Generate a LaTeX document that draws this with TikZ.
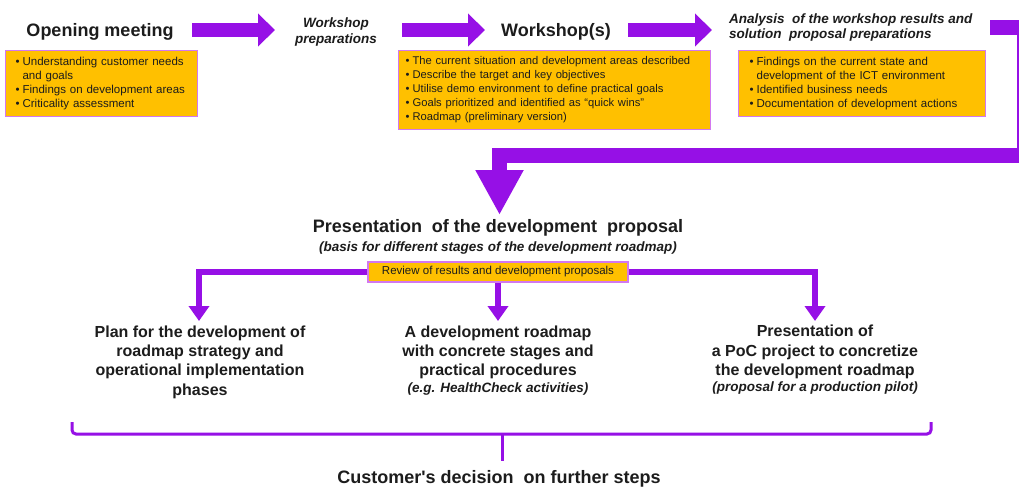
\documentclass[tikz,border=0pt]{standalone}
\usepackage{fontspec}
\setmainfont{Liberation Sans}
\usetikzlibrary{arrows.meta}
\definecolor{vio}{RGB}{150,16,230}
\definecolor{boxfill}{RGB}{255,192,0}
\definecolor{boxline}{RGB}{210,120,240}
\definecolor{txt}{RGB}{28,28,28}
\newcommand{\bul}{\makebox[7pt][l]{•}}
\newcommand{\ind}{\hspace*{7pt}}
\begin{document}
\begin{tikzpicture}[x=1pt,y=-1pt,
  every node/.style={text=txt, inner sep=0pt},
  infobox/.style={draw=boxline, line width=1.2pt, fill=boxfill, anchor=north west,
    align=left, inner xsep=10pt, inner ysep=0pt, font=\fontsize{11.5}{14}\selectfont},
  title/.style={font=\fontsize{18}{21}\selectfont\bfseries, anchor=base},
  subtitle/.style={font=\fontsize{13.5}{16}\selectfont\bfseries\itshape},
  outcome/.style={font=\fontsize{16}{19.3}\selectfont\bfseries, align=center, anchor=north},
  note/.style={font=\fontsize{13.5}{16}\selectfont\bfseries\itshape, anchor=base},
  fat/.style={vio, line width=14pt, -{Triangle[length=17pt,width=32pt]}},
  bent/.style={vio, line width=15pt, line join=miter, -{Triangle[length=45pt,width=45pt]}},
  thinarrow/.style={vio, line width=6pt, line join=miter, -{Triangle[length=15pt,width=20pt]}},
  bracket/.style={vio, line width=3pt, rounded corners=4pt}
]
\useasboundingbox[fill=white] (0,0) rectangle (1019,487);

% top row titles
\node[title] (open) at (100,37) {Opening meeting};
\node[subtitle, align=center, anchor=north] (prep) at (336,17.5) {Workshop\\preparations};
\node[title] (ws) at (556,37) {Workshop(s)};
\node[subtitle, align=left, anchor=north west, font=\fontsize{13.5}{15.5}\selectfont\bfseries\itshape] (ana) at (729,13.5) {Analysis \ of the workshop results and\\solution \ proposal preparations};

% boxes
\node[infobox, text width=172pt, minimum height=66pt] (b1) at (5,50)
  {\bul Understanding customer needs\\\ind and goals\\\bul Findings on development areas\\\bul Criticality assessment};
\node[infobox, text width=298pt, inner xsep=7pt, minimum height=79pt, font=\fontsize{11.2}{14}\selectfont] (b2) at (398,50)
  {\bul The current situation and development areas described\\\bul Describe the target and key objectives\\\bul Utilise demo environment to define practical goals\\\bul Goals prioritized and identified as “quick wins”\\\bul Roadmap (preliminary version)};
\node[infobox, text width=225pt, inner xsep=11pt, minimum height=66pt] (b3) at (738,50)
  {\bul Findings on the current state and\\\ind development of the ICT environment\\\bul Identified business needs\\\bul Documentation of development actions};

% block arrows
\coordinate (a1s) at (192,30); \coordinate (a1e) at (275,30);
\coordinate (a2s) at (402,30); \coordinate (a2e) at (485,30);
\coordinate (a3s) at (628,30); \coordinate (a3e) at (712,30);
\draw[fat] (a1s) -- (a1e);
\draw[fat] (a2s) -- (a2e);
\draw[fat] (a3s) -- (a3e);

\coordinate (bs) at (990,27.5);
\coordinate (bc1) at (1024.5,27.5);
\coordinate (bc2) at (1024.5,155.5);
\coordinate (bc3) at (499.5,155.5);
\coordinate (btip) at (499.5,215);
\draw[bent] (bs) -- (bc1) -- (bc2) -- (bc3) -- (btip);

% proposal
\node[title] (prop) at (498,232) {Presentation \ of the development \ proposal};
\node[note] (basis) at (498,251) {(basis for different stages of the development roadmap)};

% branches
\coordinate (L) at (199,272);
\coordinate (R) at (815,272);
\coordinate (tipL) at (199,321);
\coordinate (tipM) at (498,321);
\coordinate (tipR) at (815,321);
\draw[thinarrow] (R) -- (L) -- (tipL);
\draw[thinarrow] (L) -- (R) -- (tipR);
\node[draw=boxline, line width=1.2pt, fill=boxfill, minimum width=260pt, minimum height=20pt,
  font=\fontsize{11.5}{14}\selectfont] (rev) at (498,272) {Review of results and development proposals};
\draw[thinarrow] (rev.south) -- (tipM);

% outcomes
\node[outcome] (outL) at (200,325.6) {Plan for the development of\\roadmap strategy and\\operational implementation\\phases};
\node[outcome] (outM) at (498,325.6) {A development roadmap\\with concrete stages and\\practical procedures};
\node[note] (noteM) at (498,392) {(e.g. HealthCheck activities)};
\node[outcome] (outR) at (815,325) {Presentation of\\a PoC project to concretize\\the development roadmap};
\node[note] (noteR) at (815,391.7) {(proposal for a production pilot)};

% bracket
\coordinate (k1) at (72,422);
\coordinate (k2) at (72,434);
\coordinate (k3) at (931,434);
\coordinate (k4) at (931,422);
\coordinate (st) at (502,434);
\coordinate (se) at (502,461);
\draw[bracket] (k1) -- (k2) -- (k3) -- (k4);
\draw[vio, line width=3pt] (st) -- (se);
\node[title] (dec) at (499,483) {Customer\textquotesingle s decision \ on further steps};
\end{tikzpicture}
\end{document}
